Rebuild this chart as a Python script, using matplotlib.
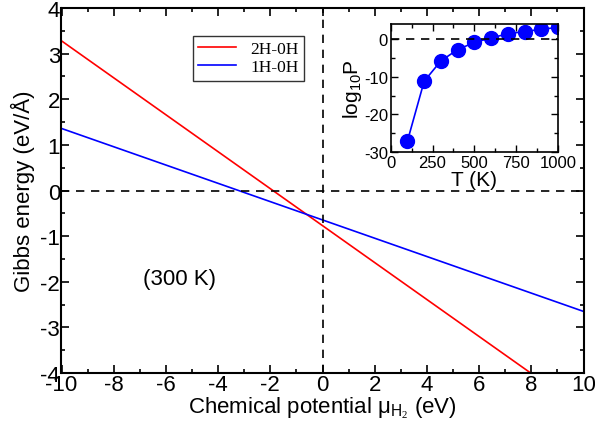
import matplotlib
matplotlib.use("Agg")
import matplotlib.pyplot as plt
import numpy as np

plt.rcParams['font.family'] = ['Liberation Sans', 'DejaVu Sans']
plt.rcParams['axes.unicode_minus'] = False
plt.rcParams['mathtext.fontset'] = 'custom'
plt.rcParams['mathtext.rm'] = 'Liberation Serif'
plt.rcParams['mathtext.it'] = 'Liberation Serif:italic'

# === DATOS ===
mu = [-10, 10]
g_2h = [3.28, -4.82]
g_1h = [1.36, -2.65]

temp = [100, 200, 300, 400, 500, 600, 700, 800, 900, 1000]
log10p = [-27.1, -11.2, -5.8, -2.8, -0.9, 0.3, 1.4, 2.0, 2.6, 3.1]

W, H = 595, 435
fig = plt.figure(figsize=(W / 100, H / 100), dpi=100)
ax = fig.add_axes([61.5 / W, 1 - 374 / H, 522 / W, 365 / H])

ax.plot(mu, g_2h, color="red", lw=1.2, label="2H-0H")
ax.plot(mu, g_1h, color="blue", lw=1.2, label="1H-0H")
ax.axhline(0, color="black", ls=(0, (5, 4)), lw=1.2)
ax.axvline(0, color="black", ls=(0, (5, 4)), lw=1.2)

ax.set_xlim(-10, 10)
ax.set_ylim(-4, 4)
ax.set_xticks(np.arange(-10, 11, 2))
ax.set_xticks(np.arange(-10, 11, 1), minor=True)
ax.set_yticks(np.arange(-4, 5, 1))
ax.set_yticks(np.arange(-4, 4.1, 0.5), minor=True)
ax.tick_params(which="both", direction="in", top=True, right=True, labelsize=16, width=1.2, pad=1)
ax.tick_params(which="major", length=6)
ax.tick_params(which="minor", length=3)
for sp in ax.spines.values():
    sp.set_linewidth(1.5)

ax.set_xlabel(r"Chemical potential μ$_{\mathregular{H}_{2}}$ (eV)", fontsize=16, labelpad=0)
ax.set_ylabel("Gibbs energy (eV/Å)", fontsize=16, labelpad=4)
ax.text(-5.46, -1.92, "(300 K)", fontsize=16, ha="center", va="center")

leg = ax.legend(loc="upper left", bbox_to_anchor=(0.252, 0.923), frameon=True, fancybox=False,
                edgecolor="black", prop={"family": "Liberation Serif", "size": 12.5},
                handlelength=2.2, borderpad=0.3, labelspacing=0.1, borderaxespad=0)
leg.get_frame().set_linewidth(1.0)

# === INSET ===
axi = fig.add_axes([390.7 / W, 1 - 153 / H, 167.3 / W, 128 / H])
axi.plot(temp, log10p, color="blue", lw=1.2, marker="o", ms=10)
axi.axhline(0, color="black", ls=(0, (5, 4)), lw=1.2)
axi.set_xlim(0, 1000)
axi.set_ylim(-30, 4)
axi.set_xticks([0, 250, 500, 750, 1000])
axi.set_xticks(np.arange(0, 1001, 125), minor=True)
axi.set_yticks([-30, -20, -10, 0])
axi.set_yticks(np.arange(-30, 4, 5), minor=True)
axi.tick_params(which="both", direction="in", top=True, right=True, labelsize=12, width=1.0, pad=2)
axi.tick_params(which="major", length=5)
axi.tick_params(which="minor", length=3)
for sp in axi.spines.values():
    sp.set_linewidth(1.2)
axi.set_xlabel("T (K)", fontsize=15, labelpad=0)
axi.set_ylabel(r"log$_{\mathregular{10}}$P", fontsize=15, labelpad=0)

fig.savefig("out.png", dpi=100)
